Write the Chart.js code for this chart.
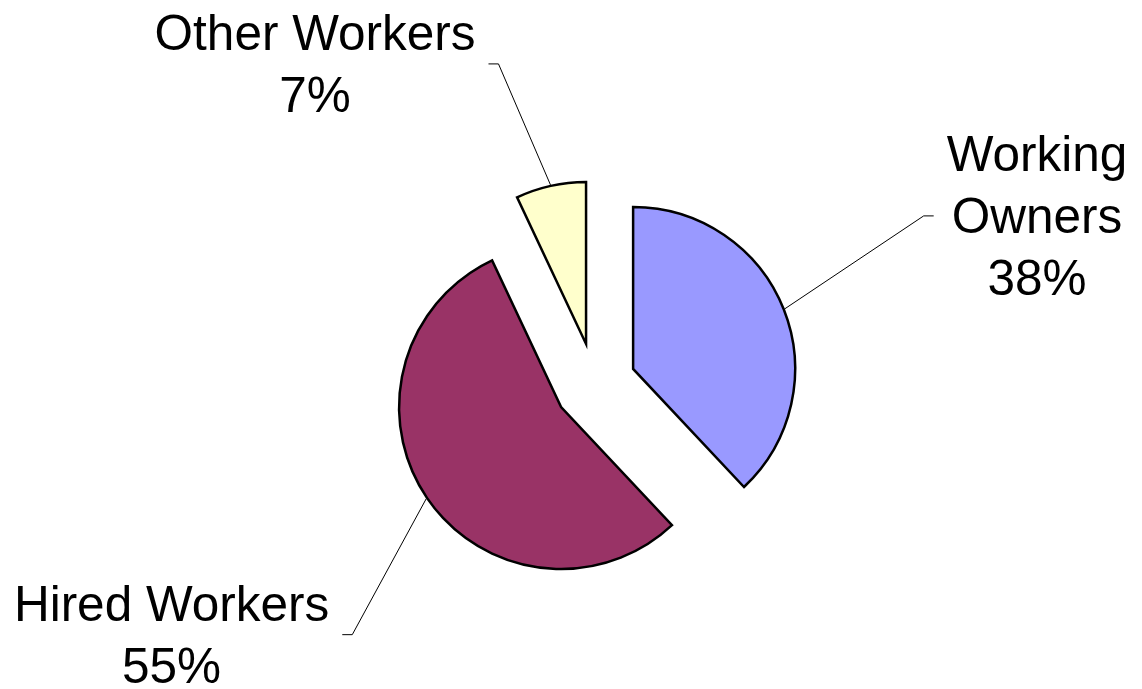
<!DOCTYPE html>
<html>
<head>
<meta charset="utf-8">
<script src="https://cdn.jsdelivr.net/npm/chart.js@4"></script>
<style>
    html, body { margin: 0; padding: 0; background: #fff; }
    #wrap { width: 1142px; height: 689px; position: relative; }
</style>
</head>
<body>
<div id="wrap"><canvas id="WorkerPie"></canvas></div>
<script>
// data
const categories = ["Working Owners", "Hired Workers", "Other Workers"];
const labelLines = [["Working", "Owners"], ["Hired Workers"], ["Other Workers"]];
const shares = [38, 55, 7];
const sliceColors = ["#9999FF", "#993366", "#FFFFCC"];

// label placement (elbow of leader line, relative to slice edge midpoint)
const elbowShift = [[139, -93], [-74, 136], [-52, -121]];

const EXPLODE = 41;
const LABEL_FONT = '49.5px "Liberation Sans", Arial, sans-serif';
const LINE_H = 62;
const CAP_H = 35;

// pull every slice out along its middle angle, same distance, same radius
const explodePie = {
    id: "explodePie",
    beforeDatasetDraw(chart, args) {
        const ctx = chart.ctx;
        args.meta.data.forEach(arc => {
            const mid = (arc.startAngle + arc.endAngle) / 2;
            ctx.save();
            ctx.translate(Math.cos(mid) * EXPLODE, Math.sin(mid) * EXPLODE);
            arc.draw(ctx);
            ctx.restore();
        });
        return false;
    }
};

const sliceLabels = {
    id: "sliceLabels",
    afterDatasetsDraw(chart) {
        const ctx = chart.ctx;
        const meta = chart.getDatasetMeta(0);
        ctx.save();
        ctx.font = LABEL_FONT;
        ctx.fillStyle = "#000";
        ctx.strokeStyle = "#000";
        ctx.lineWidth = 1;
        ctx.textAlign = "center";
        ctx.textBaseline = "alphabetic";
        meta.data.forEach((arc, i) => {
            const p = arc.getProps(["x", "y", "startAngle", "endAngle", "outerRadius"]);
            const mid = (p.startAngle + p.endAngle) / 2;
            const r = EXPLODE + p.outerRadius + 1;
            const sx = p.x + Math.cos(mid) * r;
            const sy = p.y + Math.sin(mid) * r;
            const ex = sx + elbowShift[i][0];
            const ey = sy + elbowShift[i][1];
            const side = elbowShift[i][0] >= 0 ? 1 : -1;

            ctx.beginPath();
            ctx.moveTo(sx, sy);
            ctx.lineTo(ex, ey);
            ctx.lineTo(ex + side * 10, ey);
            ctx.stroke();

            const lines = labelLines[i].concat([shares[i] + "%"]);
            const maxW = Math.max(...lines.map(t => ctx.measureText(t).width));
            const tx = ex + side * (23 + maxW / 2);
            lines.forEach((t, j) => {
                const ty = ey + (j - (lines.length - 1) / 2) * LINE_H + CAP_H / 2;
                ctx.fillText(t, tx, ty);
            });
        });
        ctx.restore();
    }
};

new Chart(document.getElementById("WorkerPie").getContext("2d"), {
    type: "pie",
    data: {
        labels: categories,
        datasets: [{
            data: shares,
            backgroundColor: sliceColors,
            borderColor: "#000",
            borderWidth: 2.5,
            borderJoinStyle: "miter",
            offset: 0,
            hoverOffset: 0
        }]
    },
    options: {
        responsive: true,
        maintainAspectRatio: false,
        devicePixelRatio: 1,
        animation: false,
        radius: 162,
        layout: { padding: { left: 48, right: 0, top: 79, bottom: 0 } },
        plugins: {
            legend: { display: false },
            tooltip: { enabled: false }
        },
        events: []
    },
    plugins: [explodePie, sliceLabels]
});
</script>
</body>
</html>
